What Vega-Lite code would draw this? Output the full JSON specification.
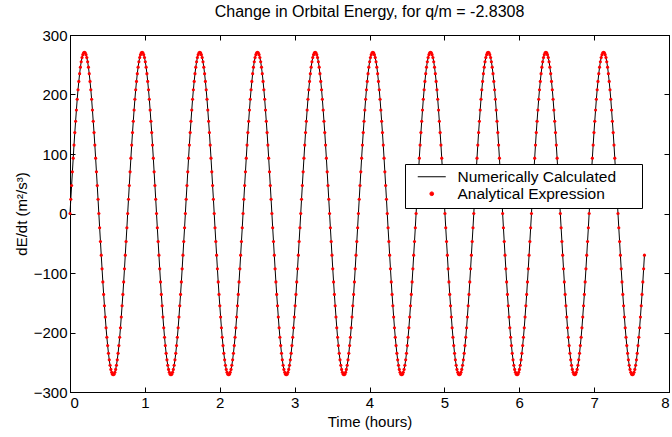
{
"$schema":"https://vega.github.io/schema/vega-lite/v6.json",
"width":599,"height":357,
"autosize":{"type":"none"},
"padding":{"left":70,"top":35,"right":3,"bottom":45},
"background":"white",
"title":{"text":"Change in Orbital Energy, for q/m = -2.8308","fontSize":16,"fontWeight":"normal","font":"Liberation Sans","color":"black","anchor":"middle","offset":8},
"config":{
 "view":{"stroke":"black","strokeWidth":1},
 "axis":{"labelFont":"Liberation Sans","titleFont":"Liberation Sans","labelFontSize":15,"titleFontSize":15,"titleFontWeight":"normal","labelColor":"black","titleColor":"black","domainColor":"black","tickColor":"black","tickSize":-5,"grid":false,"labelPadding":8}
},
"datasets":{"d":[
{"t":0,"v":0},{"t":0.0107,"v":24},{"t":0.0214,"v":47},{"t":0.0321,"v":70},{"t":0.0428,"v":93},{"t":0.0535,"v":115},{"t":0.0642,"v":136},{"t":0.0749,"v":155},{"t":0.0856,"v":174},{"t":0.0963,"v":192},{"t":0.107,"v":208},{"t":0.1177,"v":222},{"t":0.1284,"v":235},{"t":0.1391,"v":246},{"t":0.1498,"v":255},{"t":0.1605,"v":262},{"t":0.1712,"v":267},{"t":0.1819,"v":270},{"t":0.1926,"v":271},{"t":0.2033,"v":270},{"t":0.214,"v":267},{"t":0.2247,"v":262},{"t":0.2354,"v":255},{"t":0.2461,"v":246},{"t":0.2568,"v":235},{"t":0.2675,"v":222},{"t":0.2782,"v":208},{"t":0.2889,"v":192},{"t":0.2996,"v":174},{"t":0.3103,"v":155},{"t":0.321,"v":136},{"t":0.3317,"v":115},{"t":0.3424,"v":93},{"t":0.3531,"v":70},{"t":0.3638,"v":47},{"t":0.3745,"v":24},{"t":0.3852,"v":0},{"t":0.3959,"v":-24},{"t":0.4066,"v":-47},{"t":0.4173,"v":-70},{"t":0.428,"v":-93},{"t":0.4387,"v":-115},{"t":0.4494,"v":-136},{"t":0.4601,"v":-155},{"t":0.4708,"v":-174},{"t":0.4815,"v":-192},{"t":0.4922,"v":-208},{"t":0.5029,"v":-222},{"t":0.5136,"v":-235},{"t":0.5243,"v":-246},{"t":0.535,"v":-255},{"t":0.5457,"v":-262},{"t":0.5564,"v":-267},{"t":0.5671,"v":-270},{"t":0.5778,"v":-271},{"t":0.5885,"v":-270},{"t":0.5992,"v":-267},{"t":0.6099,"v":-262},{"t":0.6206,"v":-255},{"t":0.6313,"v":-246},{"t":0.642,"v":-235},{"t":0.6527,"v":-222},{"t":0.6634,"v":-208},{"t":0.6741,"v":-192},{"t":0.6848,"v":-174},{"t":0.6955,"v":-155},{"t":0.7062,"v":-136},{"t":0.7169,"v":-115},{"t":0.7276,"v":-93},{"t":0.7383,"v":-70},{"t":0.749,"v":-47},{"t":0.7597,"v":-24},
{"t":0.7704,"v":0},{"t":0.7811,"v":24},{"t":0.7918,"v":47},{"t":0.8025,"v":70},{"t":0.8132,"v":93},{"t":0.8239,"v":115},{"t":0.8346,"v":136},{"t":0.8453,"v":155},{"t":0.856,"v":174},{"t":0.8667,"v":192},{"t":0.8774,"v":208},{"t":0.8881,"v":222},{"t":0.8988,"v":235},{"t":0.9095,"v":246},{"t":0.9202,"v":255},{"t":0.9309,"v":262},{"t":0.9416,"v":267},{"t":0.9523,"v":270},{"t":0.963,"v":271},{"t":0.9737,"v":270},{"t":0.9844,"v":267},{"t":0.9951,"v":262},{"t":1.0058,"v":255},{"t":1.0165,"v":246},{"t":1.0272,"v":235},{"t":1.0379,"v":222},{"t":1.0486,"v":208},{"t":1.0593,"v":192},{"t":1.07,"v":174},{"t":1.0807,"v":155},{"t":1.0914,"v":136},{"t":1.1021,"v":115},{"t":1.1128,"v":93},{"t":1.1235,"v":70},{"t":1.1342,"v":47},{"t":1.1449,"v":24},{"t":1.1556,"v":0},{"t":1.1663,"v":-24},{"t":1.177,"v":-47},{"t":1.1877,"v":-70},{"t":1.1984,"v":-93},{"t":1.2091,"v":-115},{"t":1.2198,"v":-136},{"t":1.2305,"v":-155},{"t":1.2412,"v":-174},{"t":1.2519,"v":-192},{"t":1.2626,"v":-208},{"t":1.2733,"v":-222},{"t":1.284,"v":-235},{"t":1.2947,"v":-246},{"t":1.3054,"v":-255},{"t":1.3161,"v":-262},{"t":1.3268,"v":-267},{"t":1.3375,"v":-270},{"t":1.3482,"v":-271},{"t":1.3589,"v":-270},{"t":1.3696,"v":-267},{"t":1.3803,"v":-262},{"t":1.391,"v":-255},{"t":1.4017,"v":-246},{"t":1.4124,"v":-235},{"t":1.4231,"v":-222},{"t":1.4338,"v":-208},{"t":1.4445,"v":-192},{"t":1.4552,"v":-174},{"t":1.4659,"v":-155},{"t":1.4766,"v":-136},{"t":1.4873,"v":-115},{"t":1.498,"v":-93},{"t":1.5087,"v":-70},{"t":1.5194,"v":-47},{"t":1.5301,"v":-24},
{"t":1.5408,"v":0},{"t":1.5515,"v":24},{"t":1.5622,"v":47},{"t":1.5729,"v":70},{"t":1.5836,"v":93},{"t":1.5943,"v":115},{"t":1.605,"v":136},{"t":1.6157,"v":155},{"t":1.6264,"v":174},{"t":1.6371,"v":192},{"t":1.6478,"v":208},{"t":1.6585,"v":222},{"t":1.6692,"v":235},{"t":1.6799,"v":246},{"t":1.6906,"v":255},{"t":1.7013,"v":262},{"t":1.712,"v":267},{"t":1.7227,"v":270},{"t":1.7334,"v":271},{"t":1.7441,"v":270},{"t":1.7548,"v":267},{"t":1.7655,"v":262},{"t":1.7762,"v":255},{"t":1.7869,"v":246},{"t":1.7976,"v":235},{"t":1.8083,"v":222},{"t":1.819,"v":208},{"t":1.8297,"v":192},{"t":1.8404,"v":174},{"t":1.8511,"v":155},{"t":1.8618,"v":136},{"t":1.8725,"v":115},{"t":1.8832,"v":93},{"t":1.8939,"v":70},{"t":1.9046,"v":47},{"t":1.9153,"v":24},{"t":1.926,"v":0},{"t":1.9367,"v":-24},{"t":1.9474,"v":-47},{"t":1.9581,"v":-70},{"t":1.9688,"v":-93},{"t":1.9795,"v":-115},{"t":1.9902,"v":-136},{"t":2.0009,"v":-155},{"t":2.0116,"v":-174},{"t":2.0223,"v":-192},{"t":2.033,"v":-208},{"t":2.0437,"v":-222},{"t":2.0544,"v":-235},{"t":2.0651,"v":-246},{"t":2.0758,"v":-255},{"t":2.0865,"v":-262},{"t":2.0972,"v":-267},{"t":2.1079,"v":-270},{"t":2.1186,"v":-271},{"t":2.1293,"v":-270},{"t":2.14,"v":-267},{"t":2.1507,"v":-262},{"t":2.1614,"v":-255},{"t":2.1721,"v":-246},{"t":2.1828,"v":-235},{"t":2.1935,"v":-222},{"t":2.2042,"v":-208},{"t":2.2149,"v":-192},{"t":2.2256,"v":-174},{"t":2.2363,"v":-155},{"t":2.247,"v":-136},{"t":2.2577,"v":-115},{"t":2.2684,"v":-93},{"t":2.2791,"v":-70},{"t":2.2898,"v":-47},{"t":2.3005,"v":-24},
{"t":2.3112,"v":0},{"t":2.3219,"v":24},{"t":2.3326,"v":47},{"t":2.3433,"v":70},{"t":2.354,"v":93},{"t":2.3647,"v":115},{"t":2.3754,"v":136},{"t":2.3861,"v":155},{"t":2.3968,"v":174},{"t":2.4075,"v":192},{"t":2.4182,"v":208},{"t":2.4289,"v":222},{"t":2.4396,"v":235},{"t":2.4503,"v":246},{"t":2.461,"v":255},{"t":2.4717,"v":262},{"t":2.4824,"v":267},{"t":2.4931,"v":270},{"t":2.5038,"v":271},{"t":2.5145,"v":270},{"t":2.5252,"v":267},{"t":2.5359,"v":262},{"t":2.5466,"v":255},{"t":2.5573,"v":246},{"t":2.568,"v":235},{"t":2.5787,"v":222},{"t":2.5894,"v":208},{"t":2.6001,"v":192},{"t":2.6108,"v":174},{"t":2.6215,"v":155},{"t":2.6322,"v":136},{"t":2.6429,"v":115},{"t":2.6536,"v":93},{"t":2.6643,"v":70},{"t":2.675,"v":47},{"t":2.6857,"v":24},{"t":2.6964,"v":0},{"t":2.7071,"v":-24},{"t":2.7178,"v":-47},{"t":2.7285,"v":-70},{"t":2.7392,"v":-93},{"t":2.7499,"v":-115},{"t":2.7606,"v":-136},{"t":2.7713,"v":-155},{"t":2.782,"v":-174},{"t":2.7927,"v":-192},{"t":2.8034,"v":-208},{"t":2.8141,"v":-222},{"t":2.8248,"v":-235},{"t":2.8355,"v":-246},{"t":2.8462,"v":-255},{"t":2.8569,"v":-262},{"t":2.8676,"v":-267},{"t":2.8783,"v":-270},{"t":2.889,"v":-271},{"t":2.8997,"v":-270},{"t":2.9104,"v":-267},{"t":2.9211,"v":-262},{"t":2.9318,"v":-255},{"t":2.9425,"v":-246},{"t":2.9532,"v":-235},{"t":2.9639,"v":-222},{"t":2.9746,"v":-208},{"t":2.9853,"v":-192},{"t":2.996,"v":-174},{"t":3.0067,"v":-155},{"t":3.0174,"v":-136},{"t":3.0281,"v":-115},{"t":3.0388,"v":-93},{"t":3.0495,"v":-70},{"t":3.0602,"v":-47},{"t":3.0709,"v":-24},
{"t":3.0816,"v":0},{"t":3.0923,"v":24},{"t":3.103,"v":47},{"t":3.1137,"v":70},{"t":3.1244,"v":93},{"t":3.1351,"v":115},{"t":3.1458,"v":136},{"t":3.1565,"v":155},{"t":3.1672,"v":174},{"t":3.1779,"v":192},{"t":3.1886,"v":208},{"t":3.1993,"v":222},{"t":3.21,"v":235},{"t":3.2207,"v":246},{"t":3.2314,"v":255},{"t":3.2421,"v":262},{"t":3.2528,"v":267},{"t":3.2635,"v":270},{"t":3.2742,"v":271},{"t":3.2849,"v":270},{"t":3.2956,"v":267},{"t":3.3063,"v":262},{"t":3.317,"v":255},{"t":3.3277,"v":246},{"t":3.3384,"v":235},{"t":3.3491,"v":222},{"t":3.3598,"v":208},{"t":3.3705,"v":192},{"t":3.3812,"v":174},{"t":3.3919,"v":155},{"t":3.4026,"v":136},{"t":3.4133,"v":115},{"t":3.424,"v":93},{"t":3.4347,"v":70},{"t":3.4454,"v":47},{"t":3.4561,"v":24},{"t":3.4668,"v":0},{"t":3.4775,"v":-24},{"t":3.4882,"v":-47},{"t":3.4989,"v":-70},{"t":3.5096,"v":-93},{"t":3.5203,"v":-115},{"t":3.531,"v":-136},{"t":3.5417,"v":-155},{"t":3.5524,"v":-174},{"t":3.5631,"v":-192},{"t":3.5738,"v":-208},{"t":3.5845,"v":-222},{"t":3.5952,"v":-235},{"t":3.6059,"v":-246},{"t":3.6166,"v":-255},{"t":3.6273,"v":-262},{"t":3.638,"v":-267},{"t":3.6487,"v":-270},{"t":3.6594,"v":-271},{"t":3.6701,"v":-270},{"t":3.6808,"v":-267},{"t":3.6915,"v":-262},{"t":3.7022,"v":-255},{"t":3.7129,"v":-246},{"t":3.7236,"v":-235},{"t":3.7343,"v":-222},{"t":3.745,"v":-208},{"t":3.7557,"v":-192},{"t":3.7664,"v":-174},{"t":3.7771,"v":-155},{"t":3.7878,"v":-136},{"t":3.7985,"v":-115},{"t":3.8092,"v":-93},{"t":3.8199,"v":-70},{"t":3.8306,"v":-47},{"t":3.8413,"v":-24},
{"t":3.852,"v":0},{"t":3.8627,"v":24},{"t":3.8734,"v":47},{"t":3.8841,"v":70},{"t":3.8948,"v":93},{"t":3.9055,"v":115},{"t":3.9162,"v":136},{"t":3.9269,"v":155},{"t":3.9376,"v":174},{"t":3.9483,"v":192},{"t":3.959,"v":208},{"t":3.9697,"v":222},{"t":3.9804,"v":235},{"t":3.9911,"v":246},{"t":4.0018,"v":255},{"t":4.0125,"v":262},{"t":4.0232,"v":267},{"t":4.0339,"v":270},{"t":4.0446,"v":271},{"t":4.0553,"v":270},{"t":4.066,"v":267},{"t":4.0767,"v":262},{"t":4.0874,"v":255},{"t":4.0981,"v":246},{"t":4.1088,"v":235},{"t":4.1195,"v":222},{"t":4.1302,"v":208},{"t":4.1409,"v":192},{"t":4.1516,"v":174},{"t":4.1623,"v":155},{"t":4.173,"v":136},{"t":4.1837,"v":115},{"t":4.1944,"v":93},{"t":4.2051,"v":70},{"t":4.2158,"v":47},{"t":4.2265,"v":24},{"t":4.2372,"v":0},{"t":4.2479,"v":-24},{"t":4.2586,"v":-47},{"t":4.2693,"v":-70},{"t":4.28,"v":-93},{"t":4.2907,"v":-115},{"t":4.3014,"v":-136},{"t":4.3121,"v":-155},{"t":4.3228,"v":-174},{"t":4.3335,"v":-192},{"t":4.3442,"v":-208},{"t":4.3549,"v":-222},{"t":4.3656,"v":-235},{"t":4.3763,"v":-246},{"t":4.387,"v":-255},{"t":4.3977,"v":-262},{"t":4.4084,"v":-267},{"t":4.4191,"v":-270},{"t":4.4298,"v":-271},{"t":4.4405,"v":-270},{"t":4.4512,"v":-267},{"t":4.4619,"v":-262},{"t":4.4726,"v":-255},{"t":4.4833,"v":-246},{"t":4.494,"v":-235},{"t":4.5047,"v":-222},{"t":4.5154,"v":-208},{"t":4.5261,"v":-192},{"t":4.5368,"v":-174},{"t":4.5475,"v":-155},{"t":4.5582,"v":-136},{"t":4.5689,"v":-115},{"t":4.5796,"v":-93},{"t":4.5903,"v":-70},{"t":4.601,"v":-47},{"t":4.6117,"v":-24},
{"t":4.6224,"v":0},{"t":4.6331,"v":24},{"t":4.6438,"v":47},{"t":4.6545,"v":70},{"t":4.6652,"v":93},{"t":4.6759,"v":115},{"t":4.6866,"v":136},{"t":4.6973,"v":155},{"t":4.708,"v":174},{"t":4.7187,"v":192},{"t":4.7294,"v":208},{"t":4.7401,"v":222},{"t":4.7508,"v":235},{"t":4.7615,"v":246},{"t":4.7722,"v":255},{"t":4.7829,"v":262},{"t":4.7936,"v":267},{"t":4.8043,"v":270},{"t":4.815,"v":271},{"t":4.8257,"v":270},{"t":4.8364,"v":267},{"t":4.8471,"v":262},{"t":4.8578,"v":255},{"t":4.8685,"v":246},{"t":4.8792,"v":235},{"t":4.8899,"v":222},{"t":4.9006,"v":208},{"t":4.9113,"v":192},{"t":4.922,"v":174},{"t":4.9327,"v":155},{"t":4.9434,"v":136},{"t":4.9541,"v":115},{"t":4.9648,"v":93},{"t":4.9755,"v":70},{"t":4.9862,"v":47},{"t":4.9969,"v":24},{"t":5.0076,"v":0},{"t":5.0183,"v":-24},{"t":5.029,"v":-47},{"t":5.0397,"v":-70},{"t":5.0504,"v":-93},{"t":5.0611,"v":-115},{"t":5.0718,"v":-136},{"t":5.0825,"v":-155},{"t":5.0932,"v":-174},{"t":5.1039,"v":-192},{"t":5.1146,"v":-208},{"t":5.1253,"v":-222},{"t":5.136,"v":-235},{"t":5.1467,"v":-246},{"t":5.1574,"v":-255},{"t":5.1681,"v":-262},{"t":5.1788,"v":-267},{"t":5.1895,"v":-270},{"t":5.2002,"v":-271},{"t":5.2109,"v":-270},{"t":5.2216,"v":-267},{"t":5.2323,"v":-262},{"t":5.243,"v":-255},{"t":5.2537,"v":-246},{"t":5.2644,"v":-235},{"t":5.2751,"v":-222},{"t":5.2858,"v":-208},{"t":5.2965,"v":-192},{"t":5.3072,"v":-174},{"t":5.3179,"v":-155},{"t":5.3286,"v":-136},{"t":5.3393,"v":-115},{"t":5.35,"v":-93},{"t":5.3607,"v":-70},{"t":5.3714,"v":-47},{"t":5.3821,"v":-24},
{"t":5.3928,"v":0},{"t":5.4035,"v":24},{"t":5.4142,"v":47},{"t":5.4249,"v":70},{"t":5.4356,"v":93},{"t":5.4463,"v":115},{"t":5.457,"v":136},{"t":5.4677,"v":155},{"t":5.4784,"v":174},{"t":5.4891,"v":192},{"t":5.4998,"v":208},{"t":5.5105,"v":222},{"t":5.5212,"v":235},{"t":5.5319,"v":246},{"t":5.5426,"v":255},{"t":5.5533,"v":262},{"t":5.564,"v":267},{"t":5.5747,"v":270},{"t":5.5854,"v":271},{"t":5.5961,"v":270},{"t":5.6068,"v":267},{"t":5.6175,"v":262},{"t":5.6282,"v":255},{"t":5.6389,"v":246},{"t":5.6496,"v":235},{"t":5.6603,"v":222},{"t":5.671,"v":208},{"t":5.6817,"v":192},{"t":5.6924,"v":174},{"t":5.7031,"v":155},{"t":5.7138,"v":136},{"t":5.7245,"v":115},{"t":5.7352,"v":93},{"t":5.7459,"v":70},{"t":5.7566,"v":47},{"t":5.7673,"v":24},{"t":5.778,"v":0},{"t":5.7887,"v":-24},{"t":5.7994,"v":-47},{"t":5.8101,"v":-70},{"t":5.8208,"v":-93},{"t":5.8315,"v":-115},{"t":5.8422,"v":-136},{"t":5.8529,"v":-155},{"t":5.8636,"v":-174},{"t":5.8743,"v":-192},{"t":5.885,"v":-208},{"t":5.8957,"v":-222},{"t":5.9064,"v":-235},{"t":5.9171,"v":-246},{"t":5.9278,"v":-255},{"t":5.9385,"v":-262},{"t":5.9492,"v":-267},{"t":5.9599,"v":-270},{"t":5.9706,"v":-271},{"t":5.9813,"v":-270},{"t":5.992,"v":-267},{"t":6.0027,"v":-262},{"t":6.0134,"v":-255},{"t":6.0241,"v":-246},{"t":6.0348,"v":-235},{"t":6.0455,"v":-222},{"t":6.0562,"v":-208},{"t":6.0669,"v":-192},{"t":6.0776,"v":-174},{"t":6.0883,"v":-155},{"t":6.099,"v":-136},{"t":6.1097,"v":-115},{"t":6.1204,"v":-93},{"t":6.1311,"v":-70},{"t":6.1418,"v":-47},{"t":6.1525,"v":-24},
{"t":6.1632,"v":0},{"t":6.1739,"v":24},{"t":6.1846,"v":47},{"t":6.1953,"v":70},{"t":6.206,"v":93},{"t":6.2167,"v":115},{"t":6.2274,"v":136},{"t":6.2381,"v":155},{"t":6.2488,"v":174},{"t":6.2595,"v":192},{"t":6.2702,"v":208},{"t":6.2809,"v":222},{"t":6.2916,"v":235},{"t":6.3023,"v":246},{"t":6.313,"v":255},{"t":6.3237,"v":262},{"t":6.3344,"v":267},{"t":6.3451,"v":270},{"t":6.3558,"v":271},{"t":6.3665,"v":270},{"t":6.3772,"v":267},{"t":6.3879,"v":262},{"t":6.3986,"v":255},{"t":6.4093,"v":246},{"t":6.42,"v":235},{"t":6.4307,"v":222},{"t":6.4414,"v":208},{"t":6.4521,"v":192},{"t":6.4628,"v":174},{"t":6.4735,"v":155},{"t":6.4842,"v":136},{"t":6.4949,"v":115},{"t":6.5056,"v":93},{"t":6.5163,"v":70},{"t":6.527,"v":47},{"t":6.5377,"v":24},{"t":6.5484,"v":0},{"t":6.5591,"v":-24},{"t":6.5698,"v":-47},{"t":6.5805,"v":-70},{"t":6.5912,"v":-93},{"t":6.6019,"v":-115},{"t":6.6126,"v":-136},{"t":6.6233,"v":-155},{"t":6.634,"v":-174},{"t":6.6447,"v":-192},{"t":6.6554,"v":-208},{"t":6.6661,"v":-222},{"t":6.6768,"v":-235},{"t":6.6875,"v":-246},{"t":6.6982,"v":-255},{"t":6.7089,"v":-262},{"t":6.7196,"v":-267},{"t":6.7303,"v":-270},{"t":6.741,"v":-271},{"t":6.7517,"v":-270},{"t":6.7624,"v":-267},{"t":6.7731,"v":-262},{"t":6.7838,"v":-255},{"t":6.7945,"v":-246},{"t":6.8052,"v":-235},{"t":6.8159,"v":-222},{"t":6.8266,"v":-208},{"t":6.8373,"v":-192},{"t":6.848,"v":-174},{"t":6.8587,"v":-155},{"t":6.8694,"v":-136},{"t":6.8801,"v":-115},{"t":6.8908,"v":-93},{"t":6.9015,"v":-70},{"t":6.9122,"v":-47},{"t":6.9229,"v":-24},
{"t":6.9336,"v":0},{"t":6.9443,"v":24},{"t":6.955,"v":47},{"t":6.9657,"v":70},{"t":6.9764,"v":93},{"t":6.9871,"v":115},{"t":6.9978,"v":136},{"t":7.0085,"v":155},{"t":7.0192,"v":174},{"t":7.0299,"v":192},{"t":7.0406,"v":208},{"t":7.0513,"v":222},{"t":7.062,"v":235},{"t":7.0727,"v":246},{"t":7.0834,"v":255},{"t":7.0941,"v":262},{"t":7.1048,"v":267},{"t":7.1155,"v":270},{"t":7.1262,"v":271},{"t":7.1369,"v":270},{"t":7.1476,"v":267},{"t":7.1583,"v":262},{"t":7.169,"v":255},{"t":7.1797,"v":246},{"t":7.1904,"v":235},{"t":7.2011,"v":222},{"t":7.2118,"v":208},{"t":7.2225,"v":192},{"t":7.2332,"v":174},{"t":7.2439,"v":155},{"t":7.2546,"v":136},{"t":7.2653,"v":115},{"t":7.276,"v":93},{"t":7.2867,"v":70},{"t":7.2974,"v":47},{"t":7.3081,"v":24},{"t":7.3188,"v":0},{"t":7.3295,"v":-24},{"t":7.3402,"v":-47},{"t":7.3509,"v":-70},{"t":7.3616,"v":-93},{"t":7.3723,"v":-115},{"t":7.383,"v":-136},{"t":7.3937,"v":-155},{"t":7.4044,"v":-174},{"t":7.4151,"v":-192},{"t":7.4258,"v":-208},{"t":7.4365,"v":-222},{"t":7.4472,"v":-235},{"t":7.4579,"v":-246},{"t":7.4686,"v":-255},{"t":7.4793,"v":-262},{"t":7.49,"v":-267},{"t":7.5007,"v":-270},{"t":7.5114,"v":-271},{"t":7.5221,"v":-270},{"t":7.5328,"v":-267},{"t":7.5435,"v":-262},{"t":7.5542,"v":-255},{"t":7.5649,"v":-246},{"t":7.5756,"v":-235},{"t":7.5863,"v":-222},{"t":7.597,"v":-208},{"t":7.6077,"v":-192},{"t":7.6184,"v":-174},{"t":7.6291,"v":-155},{"t":7.6398,"v":-136},{"t":7.6505,"v":-115},{"t":7.6612,"v":-93},{"t":7.6719,"v":-70}
]},
"data":{"name":"d"},
"layer":[
 {"mark":{"type":"line","strokeWidth":1},
  "encoding":{
   "x":{"field":"t","type":"quantitative","scale":{"domain":[0,8],"nice":false,"zero":false},"axis":{"orient":"bottom","values":[0,1,2,3,4,5,6,7,8],"title":"Time (hours)","titlePadding":4}},
   "y":{"field":"v","type":"quantitative","scale":{"domain":[-300,300],"nice":false},"axis":{"orient":"left","values":[-300,-200,-100,0,100,200,300],"title":"dE/dt (m²/s³)","titlePadding":4}},
   "color":{"datum":"Numerically Calculated","type":"nominal","scale":{"domain":["Numerically Calculated","Analytical Expression"],"range":["black","red"]},
    "legend":{"orient":"none","legendX":335,"legendY":129,"title":"xx","titleOrient":"right","titleOpacity":0,"titleFontSize":15,"titlePadding":4,"strokeColor":"black","fillColor":"white","padding":5,"rowPadding":0,"labelFont":"Liberation Sans","labelFontSize":15.5,"labelColor":"black","symbolSize":196,"labelOffset":18,"symbolOffset":14,
     "encode":{"symbols":{"update":{
      "shape":{"signal":"datum.value === 'Numerically Calculated' ? 'M-2,0H2' : 'circle'"},
      "size":{"signal":"datum.value === 'Numerically Calculated' ? 196 : 14"},
      "fill":{"signal":"datum.value === 'Numerically Calculated' ? 'transparent' : 'red'"},
      "stroke":{"signal":"datum.value === 'Numerically Calculated' ? 'black' : 'red'"},
      "strokeWidth":{"value":1},"opacity":{"value":1},"fillOpacity":{"value":1},"strokeOpacity":{"value":1}}}}}}
  }},
 {"mark":{"type":"point","filled":true,"size":10,"opacity":1,"shape":"circle"},
  "encoding":{
   "x":{"field":"t","type":"quantitative","axis":{"orient":"top","values":[0,1,2,3,4,5,6,7,8],"labels":false,"title":null}},
   "y":{"field":"v","type":"quantitative","axis":{"orient":"right","values":[-300,-200,-100,0,100,200,300],"labels":false,"title":null}},
   "color":{"datum":"Analytical Expression","type":"nominal"}
  }}
],
"resolve":{"axis":{"x":"independent","y":"independent"}}
}
